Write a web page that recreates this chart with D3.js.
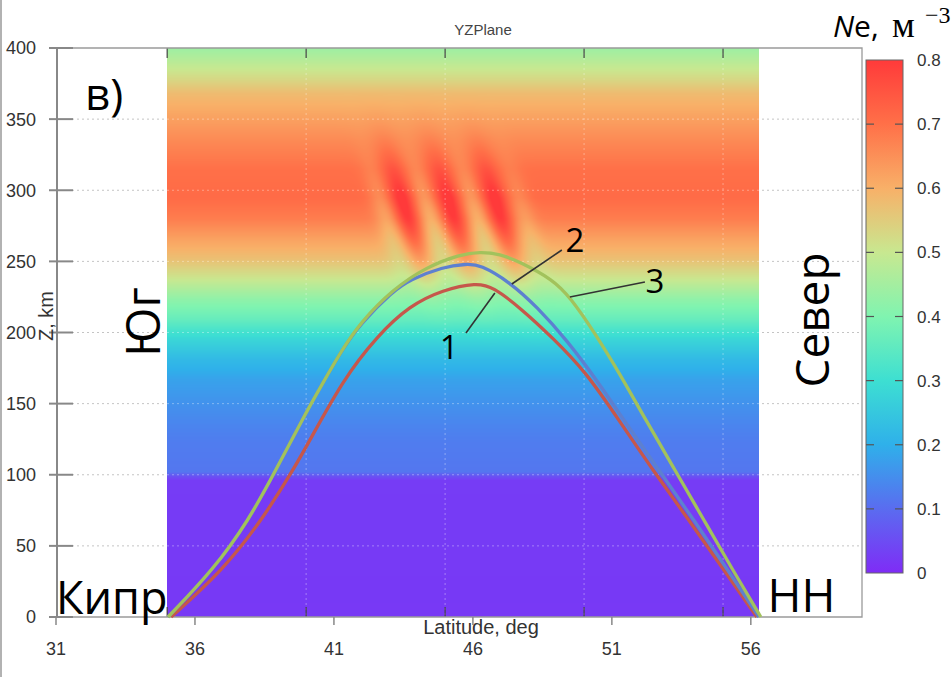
<!DOCTYPE html>
<html><head><meta charset="utf-8">
<script src="https://cdn.jsdelivr.net/npm/d3@7"></script>
<style>body{margin:0;background:#fff}svg{display:block}</style>
</head><body>
<svg id="chart" width="951" height="677"></svg>
<script>
// ---------- DATA ----------
const latTicks = [31, 36, 41, 46, 51, 56];
const latInnerTicks = [35, 40, 45, 50, 55];
const altTicks = [0, 50, 100, 150, 200, 250, 300, 350, 400];
const cbTicks = [0, 0.1, 0.2, 0.3, 0.4, 0.5, 0.6, 0.7, 0.8];
const cbTickLabels = ["0", "0.1", "0.2", "0.3", "0.4", "0.5", "0.6", "0.7", "0.8"];

// colour map (Ne value -> colour)
const cmapValues = [0, 0.1, 0.2, 0.3, 0.4, 0.5, 0.6, 0.7, 0.8];
const cmapColors = ["#7f2cf6", "#5a6cf0", "#2fb0ea", "#3ddfd2", "#80f4b0", "#c8e890", "#f8b068", "#ff7048", "#ff3a3a"];

// background electron density profile vs altitude (km)
const profileAlt = [0, 96, 99, 102, 124, 138, 153, 167, 181, 195, 209, 223, 237, 251, 265, 280, 295, 315, 335, 352, 368, 378, 390, 400];
const profileNe  = [0.02, 0.025, 0.06, 0.115, 0.125, 0.14, 0.16, 0.18, 0.22, 0.28, 0.36, 0.42, 0.5, 0.57, 0.62, 0.68, 0.71, 0.7, 0.66, 0.62, 0.58, 0.53, 0.48, 0.44];
const fieldLat = [35.0, 56.3];

// tilted wave-like disturbance: stripe latitudes (at central altitude) and amplitudes
const waveLat = [42.85, 43.63, 44.45, 45.29, 46.14, 46.97, 47.85];
const waveAmp = [-0.06, 0.12, -0.08, 0.12, -0.08, 0.12, -0.05];
const waveAltCenter = 282, waveAltWidth = 26, waveLatWidth = 0.29, waveTilt = 0.0153;

// rays (latitude, altitude km)
const ray1Lat = [35.14, 37.01, 38.41, 39.53, 40.10, 41.32, 42.55, 43.73, 44.92, 46.14, 46.72, 47.69, 48.88, 50.07, 51.25, 52.47, 53.77, 55.03, 56.22];
const ray1Alt = [0, 33.0, 68.2, 103.3, 123.0, 166.6, 197.5, 219.0, 230.0, 235.0, 232.0, 217.6, 196.1, 172.2, 138.5, 103.3, 68.2, 33.0, 0];
const ray2Lat = [35.03, 36.65, 37.94, 38.91, 39.85, 40.60, 41.29, 41.94, 43.12, 43.73, 44.92, 45.78, 46.25, 47.33, 48.30, 49.38, 50.53, 51.43, 52.69, 53.95, 55.17, 56.29];
const ray2Alt = [0, 33.0, 68.2, 103.3, 138.5, 164.5, 187.7, 206.0, 229.0, 237.0, 246.2, 248.2, 247.8, 235.4, 218.1, 194.7, 164.5, 138.5, 103.3, 68.2, 33.0, 0];
const ray3Lat = [35.03, 36.65, 37.94, 38.91, 39.85, 40.60, 41.29, 41.94, 43.12, 44.35, 45.53, 46.25, 46.97, 47.69, 48.88, 49.49, 50.39, 51.29, 52.22, 53.27, 54.31, 55.35, 56.36];
const ray3Alt = [0, 33.0, 68.2, 103.3, 138.5, 164.5, 187.7, 206.7, 230.4, 246.3, 254.8, 256.6, 255.3, 249.6, 237.2, 225.0, 199.6, 170.8, 138.5, 103.3, 68.2, 33.0, 0];
const rayColors = ["#c6574b", "#5d80d0", "#a2c25c"];
const rayLabels = ["1", "2", "3"];
// label leader lines [lat1, alt1, lat2, alt2] and label anchor [lat, alt]
const leaderLines = [[45.75, 199.6, 46.79, 227.8], [47.40, 234.1, 49.20, 258.0], [49.49, 225.0, 52.19, 235.5]];
const labelPos = [[45.15, 181.5], [49.67, 256.6], [52.55, 227.8]];

// ---------- SCALES ----------
const svg = d3.select("#chart");
const x = d3.scaleLinear().domain([31, 60]).range([56, 862]);
const y = d3.scaleLinear().domain([0, 400]).range([617, 48]);
const cb = d3.scaleLinear().domain([0, 0.8]).range([573, 60]);
const color = d3.scaleLinear().domain(cmapValues).range(cmapColors).clamp(true);
const profile = d3.scaleLinear().domain(profileAlt).range(profileNe).clamp(true);

function ne(lat, alt) {
  let v = profile(alt);
  const env = Math.exp(-((alt - waveAltCenter) ** 2) / (2 * waveAltWidth ** 2));
  for (let k = 0; k < waveLat.length; k++) {
    const c = waveLat[k] - waveTilt * (alt - waveAltCenter);
    v += waveAmp[k] * env * Math.exp(-((lat - c) ** 2) / (2 * waveLatWidth ** 2));
  }
  return v;
}

// left border of figure
svg.append("line").attr("x1", 1).attr("x2", 1).attr("y1", 0).attr("y2", 677)
  .attr("stroke", "#999").attr("stroke-width", 1.5);

// gridlines (under heatmap)
svg.append("g").selectAll("line").data(altTicks.filter(d => d > 0 && d < 400)).join("line")
  .attr("x1", x(31) + 16).attr("x2", x(60)).attr("y1", d => y(d)).attr("y2", d => y(d))
  .attr("stroke", "#c4c4c4").attr("stroke-dasharray", "2,3");

// ---------- HEATMAP ----------
const hx0 = Math.round(x(fieldLat[0])), hx1 = Math.round(x(fieldLat[1]));
const hy0 = Math.round(y(400)), hy1 = Math.round(y(0));
const cw = hx1 - hx0, ch = hy1 - hy0;
const canvas = document.createElement("canvas");
canvas.width = cw; canvas.height = ch;
const ctx = canvas.getContext("2d");
const img = ctx.createImageData(cw, ch);
const lut = d3.range(0, 1001).map(i => d3.rgb(color(i / 1000)));
for (let j = 0; j < ch; j++) {
  const alt = y.invert(hy0 + j + 0.5);
  for (let i = 0; i < cw; i++) {
    const lat = x.invert(hx0 + i + 0.5);
    const v = ne(lat, alt);
    const idx = Math.max(0, Math.min(1000, Math.round(v * 1000)));
    const c = lut[idx];
    const p = (j * cw + i) * 4;
    img.data[p] = c.r; img.data[p + 1] = c.g; img.data[p + 2] = c.b; img.data[p + 3] = 255;
  }
}
ctx.putImageData(img, 0, 0);
svg.append("image").attr("x", hx0).attr("y", hy0).attr("width", cw).attr("height", ch)
  .attr("preserveAspectRatio", "none").attr("href", canvas.toDataURL());

// faint grid over heatmap
const gOver = svg.append("g").attr("stroke", "rgba(255,255,255,0.35)").attr("stroke-dasharray", "2,3");
gOver.selectAll("line.h").data(altTicks.filter(d => d > 0 && d < 400)).join("line").attr("class", "h")
  .attr("x1", hx0).attr("x2", hx1).attr("y1", d => y(d)).attr("y2", d => y(d));
gOver.selectAll("line.v").data(latInnerTicks.filter(d => d > 35)).join("line").attr("class", "v")
  .attr("x1", d => x(d)).attr("x2", d => x(d)).attr("y1", hy0).attr("y2", hy1);

// inner ticks top & bottom
const gIn = svg.append("g").attr("stroke", "#444").attr("stroke-width", 1.2);
gIn.selectAll("line.b").data(latInnerTicks).join("line").attr("class", "b")
  .attr("x1", d => x(d)).attr("x2", d => x(d)).attr("y1", y(0) - 10).attr("y2", y(0));
gIn.selectAll("line.t").data(latInnerTicks).join("line").attr("class", "t")
  .attr("x1", d => x(d)).attr("x2", d => x(d)).attr("y1", y(400)).attr("y2", y(400) + 10);

// frame
svg.append("path").attr("d", `M${x(31)},${y(400)}H${x(60)}V${y(0)}H${x(31)}`)
  .attr("fill", "none").attr("stroke", "#9a9a9a").attr("stroke-width", 1.3);
svg.append("line").attr("x1", x(31) + 1).attr("x2", x(31) + 1).attr("y1", y(400)).attr("y2", y(0))
  .attr("stroke", "#888").attr("stroke-width", 2);

// y ticks + labels
svg.append("g").selectAll("line").data(altTicks).join("line")
  .attr("x1", 49).attr("x2", 73).attr("y1", d => y(d)).attr("y2", d => y(d))
  .attr("stroke", "#888").attr("stroke-width", 2);
svg.append("g").selectAll("text").data(altTicks).join("text")
  .attr("x", 36).attr("y", d => y(d)).attr("dy", "0.36em").attr("text-anchor", "end")
  .attr("font-family", "Liberation Sans, Arial, sans-serif").attr("font-size", 18).attr("fill", "#333")
  .text(d => d);

// x ticks + labels
svg.append("g").selectAll("line").data(latTicks).join("line")
  .attr("x1", d => x(d)).attr("x2", d => x(d)).attr("y1", y(0)).attr("y2", y(0) + 8)
  .attr("stroke", "#888").attr("stroke-width", 1.5);
svg.append("g").selectAll("text").data(latTicks).join("text")
  .attr("x", d => x(d)).attr("y", 655).attr("text-anchor", "middle")
  .attr("font-family", "Liberation Sans, Arial, sans-serif").attr("font-size", 18).attr("fill", "#333")
  .text(d => d);

// axis titles
svg.append("text").attr("x", 481).attr("y", 634).attr("text-anchor", "middle")
  .attr("font-family", "Liberation Sans, Arial, sans-serif").attr("font-size", 20).attr("fill", "#333")
  .text("Latitude, deg");
svg.append("text").attr("transform", "translate(53,316) rotate(-90)").attr("text-anchor", "middle")
  .attr("font-family", "Liberation Sans, Arial, sans-serif").attr("font-size", 20).attr("fill", "#333")
  .text("Z, km");
svg.append("text").attr("x", 483).attr("y", 35).attr("text-anchor", "middle")
  .attr("font-family", "Liberation Sans, Arial, sans-serif").attr("font-size", 15).attr("fill", "#444")
  .text("YZPlane");

// ---------- RAYS ----------
const line = d3.line().x(d => x(d[0])).y(d => y(d[1])).curve(d3.curveBasis);
const rays = [d3.zip(ray1Lat, ray1Alt), d3.zip(ray2Lat, ray2Alt), d3.zip(ray3Lat, ray3Alt)];
svg.append("g").selectAll("path").data(rays).join("path")
  .attr("d", line).attr("fill", "none").attr("stroke", (d, i) => rayColors[i]).attr("stroke-width", 3.3)
  .attr("stroke-linejoin", "round");

// leaders & labels
svg.append("g").selectAll("line").data(leaderLines).join("line")
  .attr("x1", d => x(d[0])).attr("y1", d => y(d[1])).attr("x2", d => x(d[2])).attr("y2", d => y(d[3]))
  .attr("stroke", "#333").attr("stroke-width", 1.6);
svg.append("g").selectAll("text").data(labelPos).join("text")
  .attr("x", d => x(d[0])).attr("y", d => y(d[1])).attr("text-anchor", "middle")
  .attr("font-family", "Open Sans, sans-serif").attr("font-size", 33).attr("fill", "#000")
  .text((d, i) => rayLabels[i]);

// region labels
function bigText(t, size) {
  return svg.append("text").attr("font-family", "Open Sans, sans-serif").attr("fill", "#000")
    .attr("font-size", size).text(t);
}
bigText("Кипр", 45).attr("x", x(31)).attr("y", y(0) - 3);
bigText("НН", 46).attr("x", x(56.6)).attr("y", y(0) - 5);
bigText("Юг", 47).attr("transform", `translate(160,322) rotate(-90)`).attr("text-anchor", "middle");
bigText("Север", 46).attr("transform", `translate(829,320) rotate(-90)`).attr("text-anchor", "middle");
bigText("в)", 44).attr("x", 85).attr("y", 110);

// ---------- COLORBAR ----------
const defs = svg.append("defs");
const grad = defs.append("linearGradient").attr("id", "cbgrad").attr("x1", 0).attr("y1", 1).attr("x2", 0).attr("y2", 0);
grad.selectAll("stop").data(cmapValues).join("stop")
  .attr("offset", d => d / 0.8).attr("stop-color", (d, i) => cmapColors[i]);
svg.append("rect").attr("x", 866).attr("y", cb(0.8)).attr("width", 37).attr("height", cb(0) - cb(0.8))
  .attr("fill", "url(#cbgrad)").attr("stroke", "#666").attr("stroke-width", 1);
const cbIn = cbTicks.filter(d => d > 0 && d < 0.8);
svg.append("g").selectAll("line.l").data(cbIn).join("line")
  .attr("x1", 866).attr("x2", 874).attr("y1", d => cb(d)).attr("y2", d => cb(d)).attr("stroke", "#555").attr("stroke-width", 1.2);
svg.append("g").selectAll("line.r").data(cbIn).join("line")
  .attr("x1", 895).attr("x2", 903).attr("y1", d => cb(d)).attr("y2", d => cb(d)).attr("stroke", "#555").attr("stroke-width", 1.2);
svg.append("g").selectAll("text").data(cbTicks).join("text")
  .attr("x", 917).attr("y", d => cb(d)).attr("dy", "0.36em")
  .attr("font-family", "Liberation Sans, Arial, sans-serif").attr("font-size", 17).attr("fill", "#333")
  .text((d, i) => cbTickLabels[i]);

// colorbar title: Ne, м^-3
const ttl = svg.append("text").attr("y", 37).attr("fill", "#000");
ttl.append("tspan").attr("x", 833).attr("font-family", "Open Sans, sans-serif").attr("font-style", "italic").attr("font-size", 30).text("N");
ttl.append("tspan").attr("font-family", "Open Sans, sans-serif").attr("font-size", 30).text("e,");
ttl.append("tspan").attr("x", 892).attr("font-family", "Liberation Serif, serif").attr("font-size", 36).text("м");
ttl.append("tspan").attr("x", 925).attr("dy", -14).attr("font-family", "Liberation Serif, serif").attr("font-size", 24).text("−3");
</script>
</body></html>
